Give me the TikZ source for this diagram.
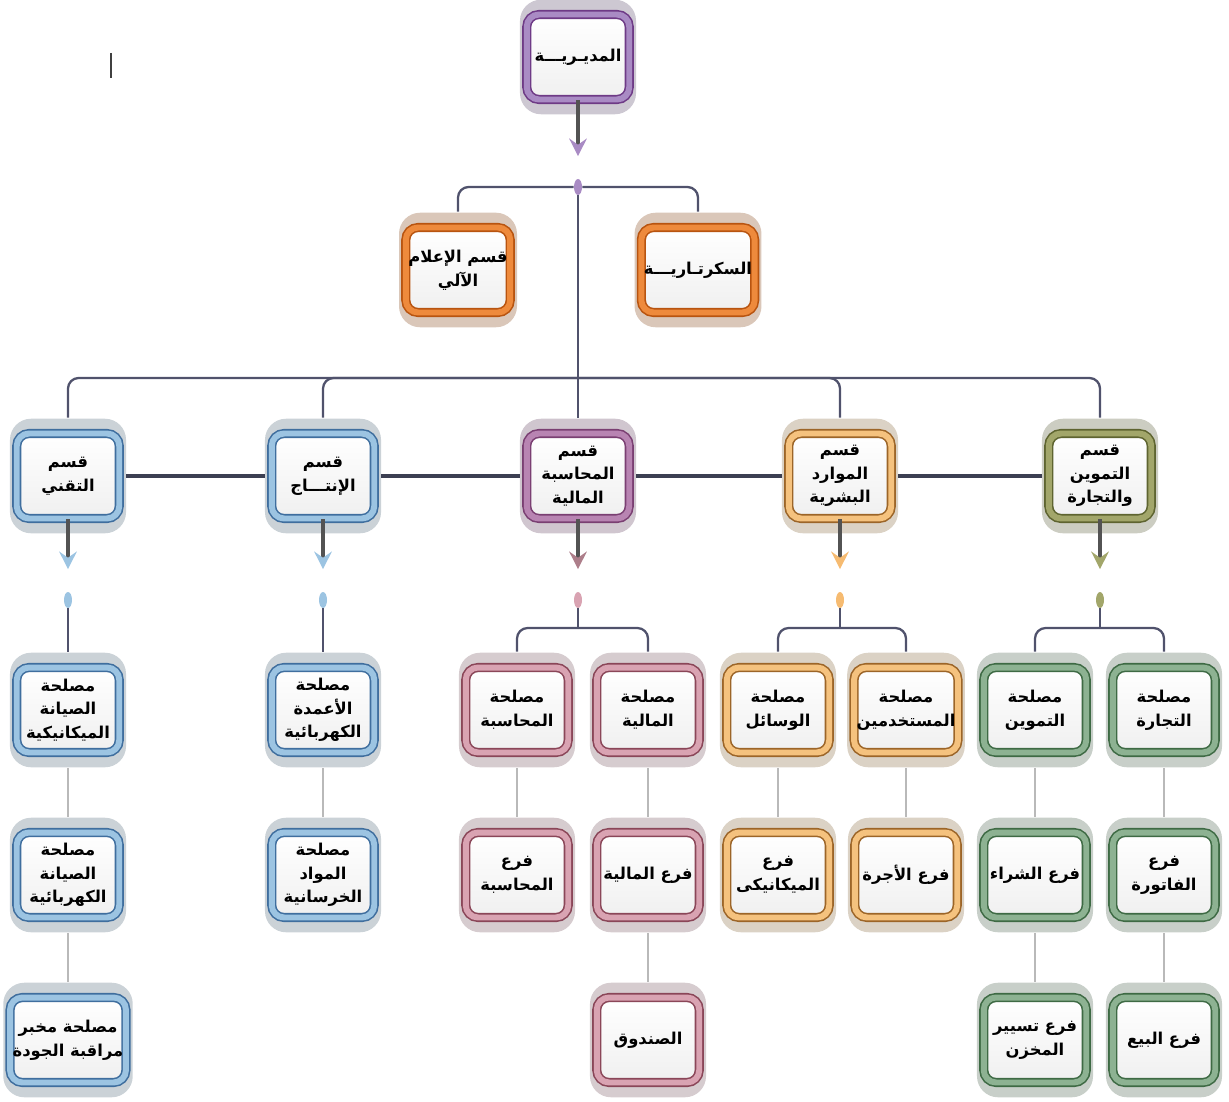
\documentclass[tikz,border=0pt]{standalone}
\usepackage{fontspec}
\usepackage{xcolor}
\usepackage{tikz}
\usetikzlibrary{arrows.meta, positioning, calc, shapes.geometric, backgrounds}

\newfontfamily\arabicfont[Script=Arabic]{DejaVu Sans}
\TeXXeTstate=1
\newcommand{\artxt}[1]{\beginR #1\endR}

\definecolor{purpleD}{HTML}{6E3A86}
\definecolor{purpleL}{HTML}{A98BC4}
\definecolor{orangeD}{HTML}{B85410}
\definecolor{orangeL}{HTML}{EE8A3C}
\definecolor{blueD}{HTML}{3F6E9E}
\definecolor{blueL}{HTML}{9CC4E2}
\definecolor{plumD}{HTML}{7A3F72}
\definecolor{plumL}{HTML}{B884B2}
\definecolor{pinkD}{HTML}{8A4658}
\definecolor{pinkL}{HTML}{D9A3B2}
\definecolor{tanD}{HTML}{9C6528}
\definecolor{tanL}{HTML}{F5C27E}
\definecolor{oliveD}{HTML}{5E6430}
\definecolor{oliveL}{HTML}{A2A66A}
\definecolor{greenD}{HTML}{3E6A44}
\definecolor{greenL}{HTML}{8DB292}
\definecolor{linkC}{HTML}{50526C}
\definecolor{barC}{HTML}{3C3F52}

\tikzset{
  unit/.style 2 args={rectangle, rounded corners=7pt, minimum width=2.05cm,
    minimum height=1.7cm, inner sep=1.5pt, align=center,
    top color=white, bottom color=gray!12,
    draw=#1, double=#2, double distance=3.4pt, line width=0.9pt,
    font=\arabicfont\bfseries\fontsize{9.3}{13.5}\selectfont},
  hubdot/.style={ellipse, fill=#1, minimum width=0.16cm, minimum height=0.32cm, inner sep=0pt},
  flow/.style={draw=gray!65!black, line width=1.8pt,
    -{Stealth[length=10pt, width=10pt, inset=3.5pt, color=#1]}, shorten >=0.45cm},
  link/.style={draw=linkC, line width=1.3pt, rounded corners=6pt},
  tobox/.style={shorten >=0.3cm},
  bar/.style={draw=barC, line width=1.8pt, shorten <=0.12cm, shorten >=0.12cm},
  thinlink/.style={draw=gray!55, line width=0.7pt, shorten <=0.3cm, shorten >=0.3cm}
}

\begin{document}
\begin{tikzpicture}[x=0.02cm, y=-0.02cm]
	\useasboundingbox (0,0) rectangle (1229,1101);
	
	% Top level
	\node[unit={purpleD}{purpleL}] (dir) at (578,57) {\artxt{المديـريـــة}};
	\node[unit={orangeD}{orangeL}] (info) at (458,270) {\artxt{قسم الإعلام}\\\artxt{الآلي}};
	\node[unit={orangeD}{orangeL}] (secr) at (698,270) {\artxt{السكرتـاريـــة}};
	\node[hubdot=purpleL] (dtop) at (578,187) {};
	\coordinate (hub) at (578,378);
	
	% Departments
	\node[unit={blueD}{blueL}] (tech) at (68,476) {\artxt{قسم}\\\artxt{التقني}};
	\node[unit={blueD}{blueL}] (prod) at (323,476) {\artxt{قسم}\\\artxt{الإنتـــاج}};
	\node[unit={plumD}{plumL}] (fin) at (578,476) {\artxt{قسم}\\\artxt{المحاسبة}\\\artxt{المالية}};
	\node[unit={tanD}{tanL}] (hr) at (840,476) {\artxt{قسم}\\\artxt{الموارد}\\\artxt{البشرية}};
	\node[unit={oliveD}{oliveL}] (supp) at (1100,476) {\artxt{قسم}\\\artxt{التموين}\\\artxt{والتجارة}};
	
	\node[hubdot=blueL] (dTech) at (68,600) {};
	\node[hubdot=blueL] (dProd) at (323,600) {};
	\node[hubdot=pinkL] (dFin) at (578,600) {};
	\node[hubdot=tanL!90!orange] (dHr) at (840,600) {};
	\node[hubdot=oliveL] (dSupp) at (1100,600) {};
	\coordinate (jFin) at (578,628);
	\coordinate (jHr) at (840,628);
	\coordinate (jSupp) at (1100,628);
	
	% Services
	\node[unit={blueD}{blueL}] (techA) at (68,710) {\artxt{مصلحة}\\\artxt{الصيانة}\\\artxt{الميكانيكية}};
	\node[unit={blueD}{blueL}] (prodA) at (323,710) {\artxt{مصلحة}\\\artxt{الأعمدة}\\\artxt{الكهربائية}};
	\node[unit={pinkD}{pinkL}] (finA) at (517,710) {\artxt{مصلحة}\\\artxt{المحاسبة}};
	\node[unit={pinkD}{pinkL}] (finB) at (648,710) {\artxt{مصلحة}\\\artxt{المالية}};
	\node[unit={tanD}{tanL}] (hrA) at (778,710) {\artxt{مصلحة}\\\artxt{الوسائل}};
	\node[unit={tanD}{tanL}] (hrB) at (906,710) {\artxt{مصلحة}\\\artxt{المستخدمين}};
	\node[unit={greenD}{greenL}] (suppA) at (1035,710) {\artxt{مصلحة}\\\artxt{التموين}};
	\node[unit={greenD}{greenL}] (suppB) at (1164,710) {\artxt{مصلحة}\\\artxt{التجارة}};
	
	% Branches
	\node[unit={blueD}{blueL}] (techB) at (68,875) {\artxt{مصلحة}\\\artxt{الصيانة}\\\artxt{الكهربائية}};
	\node[unit={blueD}{blueL}] (prodB) at (323,875) {\artxt{مصلحة}\\\artxt{المواد}\\\artxt{الخرسانية}};
	\node[unit={pinkD}{pinkL}] (finA1) at (517,875) {\artxt{فرع}\\\artxt{المحاسبة}};
	\node[unit={pinkD}{pinkL}] (finB1) at (648,875) {\artxt{فرع المالية}};
	\node[unit={tanD}{tanL}] (hrA1) at (778,875) {\artxt{فرع}\\\artxt{الميكانيكى}};
	\node[unit={tanD}{tanL}] (hrB1) at (906,875) {\artxt{فرع الأجرة}};
	\node[unit={greenD}{greenL}] (suppA1) at (1035,875) {\artxt{فرع الشراء}};
	\node[unit={greenD}{greenL}] (suppB1) at (1164,875) {\artxt{فرع}\\\artxt{الفاتورة}};
	
	\node[unit={blueD}{blueL}] (techC) at (68,1040) {\artxt{مصلحة مخبر}\\\artxt{مراقبة الجودة}};
	\node[unit={pinkD}{pinkL}] (finB2) at (648,1040) {\artxt{الصندوق}};
	\node[unit={greenD}{greenL}] (suppA2) at (1035,1040) {\artxt{فرع تسيير}\\\artxt{المخزن}};
	\node[unit={greenD}{greenL}] (suppB2) at (1164,1040) {\artxt{فرع البيع}};
	
	% Halos behind the boxes
	\begin{scope}[on background layer]
		\foreach \n/\c in {dir/purpleL, info/orangeL, secr/orangeL, tech/blueL, prod/blueL,
			fin/plumL, hr/tanL, supp/oliveL, techA/blueL, techB/blueL, techC/blueL,
			prodA/blueL, prodB/blueL, finA/pinkL, finB/pinkL, finA1/pinkL, finB1/pinkL,
			finB2/pinkL, hrA/tanL, hrB/tanL, hrA1/tanL, hrB1/tanL, suppA/greenL,
			suppB/greenL, suppA1/greenL, suppA2/greenL, suppB1/greenL, suppB2/greenL}
		\fill[\c!40!gray!45, rounded corners=12pt]
		($(\n.south west)+(-6,14)$) rectangle ($(\n.north east)+(6,-14)$);
	\end{scope}
	
	% Connectors
	\draw[flow=purpleL] (dir.south) -- (dtop);
	\draw[link, tobox] (dtop) -| (info.north);
	\draw[link, tobox] (dtop) -| (secr.north);
	\draw[link] (dtop) -- (hub);
	\foreach \d in {tech, prod, fin, hr, supp}
	\draw[link, tobox] (hub) -| (\d.north);
	
	\draw[bar] (tech) -- (prod);
	\draw[bar] (prod) -- (fin);
	\draw[bar] (fin) -- (hr);
	\draw[bar] (hr) -- (supp);
	
	\draw[flow=blueL] (tech.south) -- (dTech);
	\draw[flow=blueL] (prod.south) -- (dProd);
	\draw[flow=pinkD!70] (fin.south) -- (dFin);
	\draw[flow=tanL!90!orange] (hr.south) -- (dHr);
	\draw[flow=oliveL] (supp.south) -- (dSupp);
	
	\draw[link, tobox] (dTech) -- (techA);
	\draw[link, tobox] (dProd) -- (prodA);
	\draw[link] (dFin) -- (jFin);
	\draw[link, tobox] (jFin) -| (finA.north);
	\draw[link, tobox] (jFin) -| (finB.north);
	\draw[link] (dHr) -- (jHr);
	\draw[link, tobox] (jHr) -| (hrA.north);
	\draw[link, tobox] (jHr) -| (hrB.north);
	\draw[link] (dSupp) -- (jSupp);
	\draw[link, tobox] (jSupp) -| (suppA.north);
	\draw[link, tobox] (jSupp) -| (suppB.north);
	
	\draw[thinlink] (techA) -- (techB);
	\draw[thinlink] (techB) -- (techC);
	\draw[thinlink] (prodA) -- (prodB);
	\draw[thinlink] (finA) -- (finA1);
	\draw[thinlink] (finB) -- (finB1);
	\draw[thinlink] (finB1) -- (finB2);
	\draw[thinlink] (hrA) -- (hrA1);
	\draw[thinlink] (hrB) -- (hrB1);
	\draw[thinlink] (suppA) -- (suppA1);
	\draw[thinlink] (suppA1) -- (suppA2);
	\draw[thinlink] (suppB) -- (suppB1);
	\draw[thinlink] (suppB1) -- (suppB2);
	
	% stray cursor mark
	\draw[line width=1pt, black!75] (111,53) -- (111,78);
\end{tikzpicture}
\end{document}
